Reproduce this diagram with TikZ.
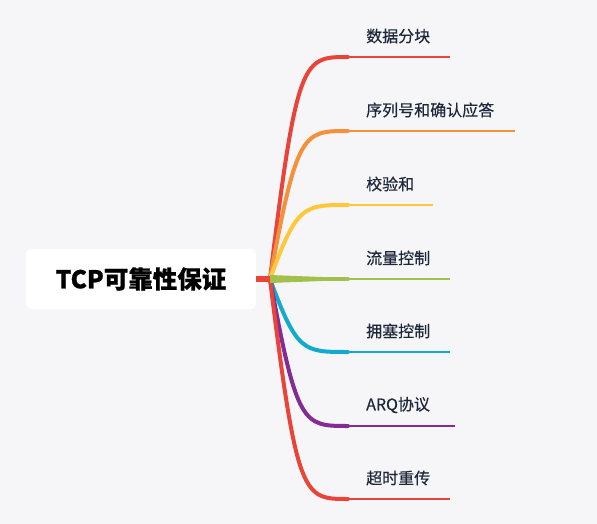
\documentclass[tikz,border=0pt]{standalone}
\usepackage{fontspec}
\setmainfont{Noto Sans CJK SC}
\newfontfamily\labelfont{Noto Sans CJK SC}[UprightFeatures={FakeBold=0.4}]
\newfontfamily\rootfont{Noto Sans CJK SC}[BoldFeatures={FakeBold=0.8}]
\usetikzlibrary{positioning}
\definecolor{bgc}{HTML}{F6F6F8}
\definecolor{ink}{HTML}{1E283A}
\definecolor{cred}{HTML}{E8443A}
\definecolor{corange}{HTML}{F5913A}
\definecolor{cyellow}{HTML}{FFC83A}
\definecolor{cgreen}{HTML}{A1C14B}
\definecolor{ccyan}{HTML}{12AACD}
\definecolor{cpurple}{HTML}{832C94}
\tikzstyle{branch} = [line width=4pt,line cap=round]
\tikzstyle{twig} = [line width=1.6pt]
\tikzstyle{label} = [anchor=west,inner sep=0pt,text=ink,font=\labelfont\fontsize{16}{19}\selectfont]

\begin{document}
\begin{tikzpicture}[x=1pt,y=-1pt]
\fill[bgc] (0,0) rectangle (597,524);
\node[fill=white,rounded corners=5pt,minimum width=230pt,minimum height=60pt,font=\rootfont\bfseries\fontsize{24.5}{29}\selectfont] (root) at (141,279) {TCP可靠性保证};
\coordinate (hub) at (270,279);

\foreach \y/\c/\e/\t [count=\i] in {57/cred/450/数据分块,131/corange/515/序列号和确认应答,205/cyellow/433/校验和,279/cgreen/450/流量控制,352/ccyan/450/拥塞控制,426/cpurple/455/ARQ协议,499/cred/450/超时重传}
{
  \coordinate (k\i) at (348,\y);
  \coordinate (e\i) at (\e,\y);
  \node[label] (t\i) at (366,\y-21) {\t};
  \draw[branch,\c] (hub) .. controls (297,\y) and (303,\y) .. (k\i);
  \draw[twig,\c] (k\i) -- (e\i);
}
\fill[cgreen] ([yshift=-4pt]hub) -- ([yshift=-1pt]k4) -- ([yshift=1pt]k4) -- ([yshift=4pt]hub) -- cycle;

\draw[line width=6pt,cred] (root.east) -- (hub);
\end{tikzpicture}
\end{document}
